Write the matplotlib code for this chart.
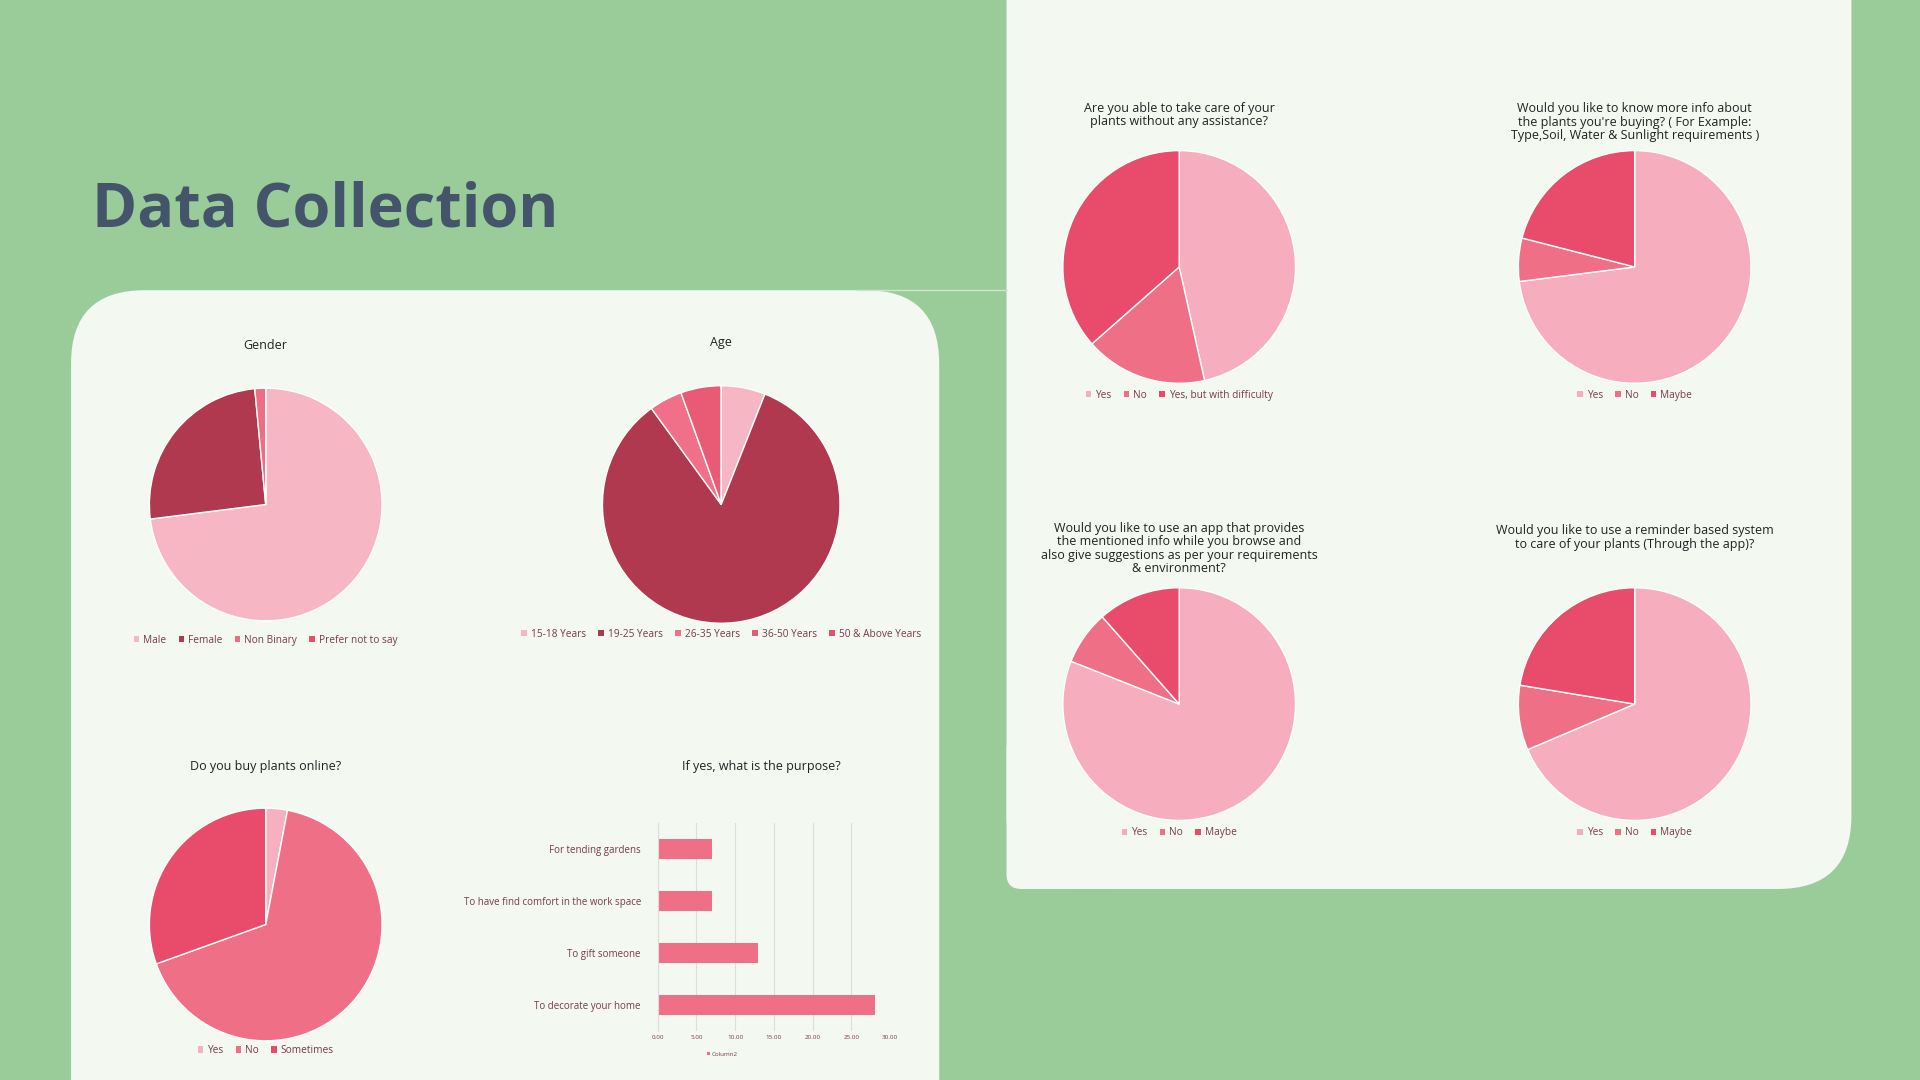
import matplotlib
matplotlib.use("Agg")
import matplotlib.pyplot as plt
from matplotlib.patches import FancyBboxPatch, Patch

W, H = 1568, 882  # coordinates of the reference layout

plt.rcParams['font.family'] = ['Open Sans', 'DejaVu Sans']

GREEN = '#9ACC99'
PANEL = '#F3F8F1'
TXT = '#7B3A4A'

# ---- data ----
gender_labels = ['Male', 'Female', 'Non Binary', 'Prefer not to say']
gender_vals = [73, 25.5, 1.5, 0]
age_labels = ['15-18 Years', '19-25 Years', '26-35 Years', '36-50 Years', '50 & Above Years']
age_vals = [6, 84, 4.5, 5.5, 0]
online_labels = ['Yes', 'No', 'Sometimes']
online_vals = [3, 66.5, 30.5]
purpose_labels = ['To decorate your home', 'To gift someone',
                  'To have find comfort in the work space', 'For tending gardens']
purpose_vals = [28, 13, 7, 7]
care_labels = ['Yes', 'No', 'Yes, but with difficulty']
care_vals = [46.5, 17, 36.5]
ynm = ['Yes', 'No', 'Maybe']
info_vals = [73, 6, 21]
app_vals = [81, 7.5, 11.5]
remind_vals = [68.6, 9, 22.4]

fig = plt.figure(figsize=(19.2, 10.8), dpi=100)
fig.patch.set_facecolor(GREEN)

bg = fig.add_axes([0, 0, 1, 1])
bg.set_xlim(0, W)
bg.set_ylim(H, 0)
bg.axis('off')
bg.plot([700, 822], [237, 237], color='#CFE3CD', lw=1)
bg.add_patch(FancyBboxPatch((58, 237), 709, 800, boxstyle='round,pad=0,rounding_size=60',
                            fc=PANEL, ec='none'))
bg.add_patch(FancyBboxPatch((822, -200), 690, 926, boxstyle='round,pad=0,rounding_size=60',
                            fc=PANEL, ec='none'))
bg.add_patch(FancyBboxPatch((822, 600), 100, 126, boxstyle='round,pad=0,rounding_size=12',
                            fc=PANEL, ec='none'))
bg.text(75, 172, 'Data Collection', fontsize=44, fontweight='bold', color='#44546A',
        va='center', ha='left', family=['Open Sans', 'DejaVu Sans'])


def pie(cx, cy, r, vals, labels, colors, title, ty, ly):
    ax = fig.add_axes([(cx - r) / W, 1 - (cy + r) / H, 2 * r / W, 2 * r / H])
    ax.pie(vals, colors=colors, startangle=90, counterclock=False, radius=1,
           wedgeprops=dict(edgecolor='white', linewidth=1))
    ax.set_xlim(-1, 1)
    ax.set_ylim(-1, 1)
    ax.set_aspect('auto')
    fig.text(cx / W, 1 - ty / H, title, ha='center', va='center', fontsize=9,
             color='#222222', linespacing=1.05)
    handles = [Patch(fc=c, ec='none', label=l) for c, l in zip(colors, labels)]
    fig.legend(handles=handles, loc='center', bbox_to_anchor=(cx / W, 1 - ly / H),
               ncol=len(labels), frameon=False, fontsize=7.3, labelcolor=TXT,
               handlelength=0.55, handleheight=0.55, handletextpad=0.4, columnspacing=1.2)


pie(217, 412, 95, gender_vals, gender_labels,
    ['#F6B6C4', '#B0384F', '#EE6C84', '#E94F6C'], 'Gender', 282, 523)
pie(589, 412, 97, age_vals, age_labels,
    ['#F6B6C4', '#B0384F', '#EF7088', '#E95A74', '#E94F6C'], 'Age', 280, 518)
pie(217, 755, 95, online_vals, online_labels,
    ['#F6B0C0', '#EF6F86', '#E94B6B'], 'Do you buy plants online?', 626, 858)
pie(963, 218, 95, care_vals, care_labels, ['#F6ADBD', '#EF6F86', '#E94B6B'],
    'Are you able to take care of your\nplants without any assistance?', 94, 323)
pie(1335, 218, 95, info_vals, ynm, ['#F6ADBD', '#EF6F86', '#E94B6B'],
    "Would you like to know more info about\nthe plants you're buying? ( For Example:\n"
    "Type,Soil, Water & Sunlight requirements )", 100, 323)
pie(963, 575, 95, app_vals, ynm, ['#F6ADBD', '#EF6F86', '#E94B6B'],
    'Would you like to use an app that provides\nthe mentioned info while you browse and\n'
    'also give suggestions as per your requirements\n& environment?', 448, 680)
pie(1335, 575, 95, remind_vals, ynm, ['#F6ADBD', '#EF6F86', '#E94B6B'],
    'Would you like to use a reminder based system\nto care of your plants (Through the app)?',
    439, 680)

# ---- bar chart ----
bx = fig.add_axes([537 / W, 1 - 842 / H, 190 / W, 170 / H])
bx.set_facecolor('none')
bx.barh(range(len(purpose_vals)), purpose_vals, height=0.38, color='#EF6F86')
bx.set_xlim(0, 30)
bx.set_ylim(-0.5, 3.5)
bx.set_yticks(range(len(purpose_labels)))
bx.set_yticklabels(purpose_labels, fontsize=7, color=TXT)
bx.set_xticks([0, 5, 10, 15, 20, 25, 30])
bx.set_xticklabels(['%.2f' % v for v in [0, 5, 10, 15, 20, 25, 30]], fontsize=4.5, color=TXT)
bx.tick_params(length=0, pad=12)
bx.tick_params(axis='x', pad=3)
bx.grid(axis='x', color='#DDDDDD', lw=0.8)
bx.set_axisbelow(True)
for s in ['top', 'right', 'bottom']:
    bx.spines[s].set_visible(False)
bx.spines['left'].set_color('#DDDDDD')
fig.text(622 / W, 1 - 626 / H, 'If yes, what is the purpose?', ha='center', va='center',
         fontsize=9, color='#222222')
fig.legend(handles=[Patch(fc='#EF6F86', label='Column2')], loc='center',
           bbox_to_anchor=(590 / W, 1 - 861 / H), frameon=False, fontsize=4.5,
           labelcolor=TXT, handlelength=0.5, handleheight=0.5, handletextpad=0.3)

fig.savefig('out.png', dpi=100, facecolor=GREEN)
